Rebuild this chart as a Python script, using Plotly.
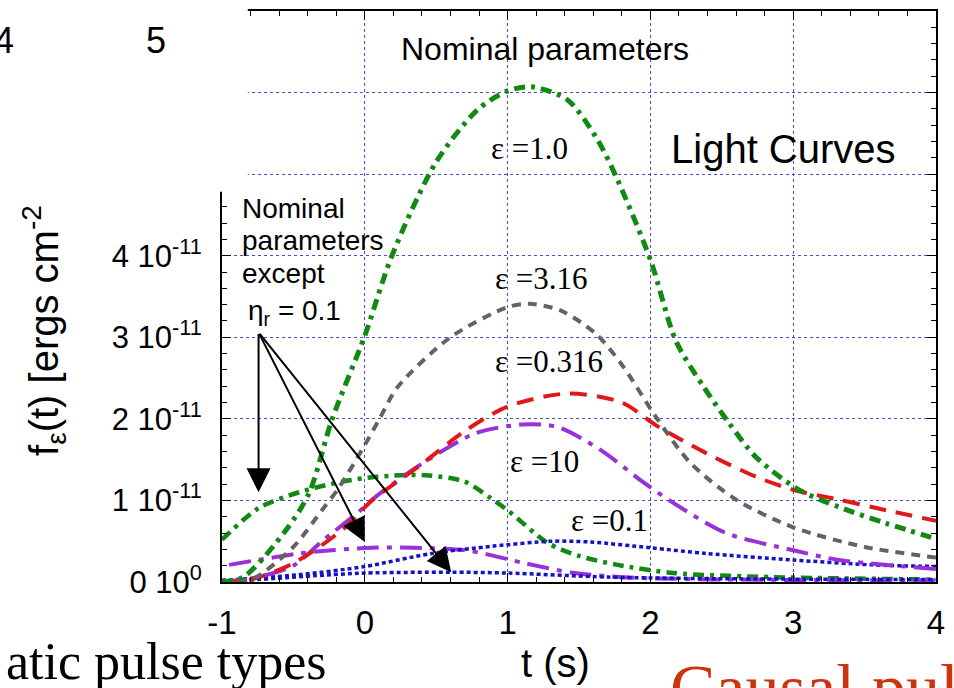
import plotly.graph_objects as go

# Flux light curves f_eps(t), values in units of 1e-11 ergs cm^-2
SCALE = 1e-11

# nominal parameters
t_e1 = [-1.0, -0.85, -0.55, -0.39, -0.23, 0.0, 0.19, 0.5, 0.79, 1.0, 1.17, 1.42, 1.63, 1.77, 2.0, 2.18, 2.37, 2.55, 2.74, 3.04, 3.32, 3.65, 4.0]
f_e1 = [0.0, 0.06, 0.64, 1.09, 1.99, 3.02, 4.0, 5.15, 5.79, 6.02, 6.07, 5.91, 5.42, 4.93, 3.95, 2.95, 2.4, 1.95, 1.53, 1.13, 0.92, 0.72, 0.53]

t_e316 = [-1.0, -0.85, -0.76, -0.5, -0.3, -0.18, -0.02, 0.1, 0.23, 0.6, 1.0, 1.15, 1.37, 1.62, 1.81, 2.04, 2.28, 2.6, 3.0, 3.5, 4.0]
f_e316 = [0.0, 0.02, 0.06, 0.43, 0.88, 1.16, 1.62, 1.99, 2.39, 3.0, 3.37, 3.41, 3.33, 3.04, 2.64, 2.02, 1.46, 1.01, 0.67, 0.43, 0.3]

t_e0316 = [-1.0, -0.8, -0.5, -0.15, 0.05, 0.38, 0.7, 1.0, 1.42, 1.8, 2.04, 2.39, 2.74, 3.0, 3.32, 3.65, 4.0]
f_e0316 = [0.0, 0.03, 0.23, 0.65, 1.0, 1.42, 1.85, 2.15, 2.31, 2.2, 1.92, 1.58, 1.29, 1.13, 1.01, 0.88, 0.75]

t_e10 = [-1.0, -0.75, -0.5, -0.3, -0.05, 0.08, 0.4, 0.77, 1.1, 1.35, 1.65, 1.93, 2.16, 2.53, 3.0, 3.32, 4.0]
f_e10 = [0.0, 0.06, 0.2, 0.5, 0.85, 1.05, 1.45, 1.82, 1.93, 1.9, 1.62, 1.25, 0.97, 0.6, 0.39, 0.27, 0.16]

t_e01 = [-1.0, -0.46, 0.0, 0.47, 0.9, 1.31, 1.58, 2.0, 2.39, 3.0, 3.55, 4.0]
f_e01 = [0.02, 0.09, 0.19, 0.35, 0.44, 0.5, 0.49, 0.42, 0.35, 0.27, 0.21, 0.19]

# nominal parameters except eta_r = 0.1
t_e1_eta = [-1.0, -0.74, -0.46, -0.16, 0.08, 0.42, 0.7, 0.88, 1.0, 1.28, 1.5, 1.77, 2.16, 2.86, 4.0]
f_e1_eta = [0.52, 0.91, 1.1, 1.23, 1.29, 1.31, 1.23, 1.03, 0.88, 0.48, 0.32, 0.21, 0.11, 0.06, 0.03]

t_e10_eta = [-0.95, -0.46, -0.23, 0.05, 0.35, 0.7, 0.88, 1.12, 1.47, 1.93, 4.0]
f_e10_eta = [0.21, 0.35, 0.39, 0.42, 0.42, 0.39, 0.33, 0.23, 0.11, 0.05, 0.02]

t_e01_eta = [-1.0, -0.23, 0.0, 0.6, 1.0, 1.7, 2.5, 4.0]
f_e01_eta = [0.0, 0.09, 0.11, 0.12, 0.11, 0.06, 0.04, 0.03]

x_ticks = [-1, 0, 1, 2, 3, 4]
x_tick_text = ["-1", "0", "1", "2", "3", "4"]
y_ticks = [0, 1, 2, 3, 4, 5, 6]
y_tick_text = ["0 10<sup>0</sup>", "1 10<sup>-11</sup>", "2 10<sup>-11</sup>",
               "3 10<sup>-11</sup>", "4 10<sup>-11</sup>", "", ""]

GREEN = "#128a12"
GRAY = "#636363"
RED = "#e01818"
PURPLE = "#9a30d8"
BLUE = "#1414c4"
GRID = "#4b4bd2"

SANS = "Liberation Sans, Arial, sans-serif"
SERIF = "Liberation Serif, Times New Roman, serif"

curves = [
    (t_e1_eta, f_e1_eta, GREEN, 4.5, "11px,6px,4px,6px"),
    (t_e10_eta, f_e10_eta, PURPLE, 4, "22px,8px,5px,8px"),
    (t_e01_eta, f_e01_eta, BLUE, 3.5, "4px,3px"),
    (t_e01, f_e01, BLUE, 3.5, "4px,3px"),
    (t_e10, f_e10, PURPLE, 4, "22px,8px,5px,8px"),
    (t_e0316, f_e0316, RED, 4, "17px,10px"),
    (t_e316, f_e316, GRAY, 4, "9px,7px"),
    (t_e1, f_e1, GREEN, 5, "11px,6px,4px,6px"),
]

fig = go.Figure()
for t, f, color, width, dash in curves:
    fig.add_trace(go.Scatter(
        x=t, y=[v * SCALE for v in f], mode="lines",
        line=dict(color=color, width=width, dash=dash, shape="spline", smoothing=0.8),
        showlegend=False, hoverinfo="skip",
    ))

annotations = []


def label(text, x, y, size, family, xanchor="left", color="black"):
    annotations.append(dict(
        text=text, x=x, y=y * SCALE, xref="x", yref="y", showarrow=False,
        xanchor=xanchor, yanchor="middle", font=dict(size=size, family=family, color=color),
    ))


label("Nominal parameters", 1.26, 6.54, 32, SANS, xanchor="center")
label("Light Curves", 2.13, 5.31, 40, SANS)
label("ε =1.0", 0.87, 5.31, 31, SERIF)
label("ε =3.16", 0.90, 3.72, 31, SERIF)
label("ε =0.316", 0.90, 2.70, 31, SERIF)
label("ε =10", 1.0, 1.48, 31, SERIF)
label("ε =0.1", 1.43, 0.75, 31, SERIF)
label("Nominal", -0.875, 4.58, 28, SANS)
label("parameters", -0.875, 4.19, 28, SANS)
label("except", -0.875, 3.78, 28, SANS)
label("η<sub>r</sub> = 0.1", -0.83, 3.30, 28, SANS)

# arrows from the eta_r label to the eta_r = 0.1 curves
arrow_tail = (-0.744, 3.06)
arrow_heads = [(-0.744, 1.10), (0.0, 0.49), (0.605, 0.12)]
for hx, hy in arrow_heads:
    annotations.append(dict(
        x=hx, y=hy * SCALE, ax=arrow_tail[0], ay=arrow_tail[1] * SCALE,
        xref="x", yref="y", axref="x", ayref="y", showarrow=True,
        arrowhead=2, arrowsize=2.4, arrowwidth=2, arrowcolor="black", text="",
    ))

# axis titles
annotations.append(dict(
    text="f<sub>ε</sub>(t) [ergs cm<sup>-2</sup>", textangle=-90,
    x=(43 - 222) / 720, y=(582 - 330) / 572, xref="paper", yref="paper",
    showarrow=False, xanchor="center", yanchor="middle",
    font=dict(size=40, family=SANS, color="black"),
))
annotations.append(dict(
    text="t (s)", x=(558 - 222) / 720, y=(582 - 663) / 572, xref="paper", yref="paper",
    showarrow=False, xanchor="center", yanchor="middle",
    font=dict(size=40, family=SANS, color="black"),
))

# surrounding slide text
annotations.append(dict(
    text="4", x=(2 - 222) / 720, y=(582 - 40) / 572, xref="paper", yref="paper",
    showarrow=False, xanchor="center", yanchor="middle",
    font=dict(size=36, family=SANS, color="black"),
))
annotations.append(dict(
    text="5", x=(155 - 222) / 720, y=(582 - 40) / 572, xref="paper", yref="paper",
    showarrow=False, xanchor="center", yanchor="middle",
    font=dict(size=36, family=SANS, color="black"),
))
annotations.append(dict(
    text="atic pulse types", x=(2 - 222) / 720, y=(582 - 692) / 572, xref="paper", yref="paper",
    showarrow=False, xanchor="left", yanchor="bottom",
    font=dict(size=52, family=SERIF, color="black"),
))
annotations.append(dict(
    text="Causal pulses", x=(672 - 222) / 720, y=(582 - 648) / 572, xref="paper", yref="paper",
    showarrow=False, xanchor="left", yanchor="top",
    font=dict(size=68, family=SERIF, color="#cc3311"),
))

fig.update_layout(
    width=954, height=688,
    margin=dict(l=222, r=12, t=9, b=106),
    paper_bgcolor="white", plot_bgcolor="white",
    annotations=annotations,
    shapes=[dict(
        type="rect", xref="paper", yref="paper",
        x0=-0.4, x1=(248 - 222) / 720, y0=(582 - 191) / 572, y1=1.05,
        fillcolor="white", line=dict(width=0), layer="above",
    )],
)

fig.update_xaxes(
    range=[-1, 4], tickmode="array", tickvals=x_ticks, ticktext=x_tick_text,
    ticks="inside", ticklen=9, tickwidth=1, tickcolor="black",
    showline=True, linecolor="black", linewidth=2, mirror="allticks",
    showgrid=True, gridcolor=GRID, griddash="dot", gridwidth=1,
    zeroline=False, ticklabelstandoff=10,
    tickfont=dict(size=33, family=SANS, color="black"),
    minor=dict(tickmode="linear", tick0=-1, dtick=0.2, ticks="inside", ticklen=5,
               tickcolor="black", showgrid=False),
)
fig.update_yaxes(
    range=[0, 7 * SCALE], tickmode="array",
    tickvals=[v * SCALE for v in y_ticks], ticktext=y_tick_text,
    ticks="inside", ticklen=9, tickwidth=1, tickcolor="black",
    showline=True, linecolor="black", linewidth=2, mirror="allticks",
    showgrid=True, gridcolor=GRID, griddash="dot", gridwidth=1,
    zeroline=False, ticklabelstandoff=12,
    tickfont=dict(size=31, family=SANS, color="black"),
    minor=dict(tickmode="linear", tick0=0, dtick=0.2 * SCALE, ticks="inside", ticklen=5,
               tickcolor="black", showgrid=False),
)

fig.write_html("out.html")
